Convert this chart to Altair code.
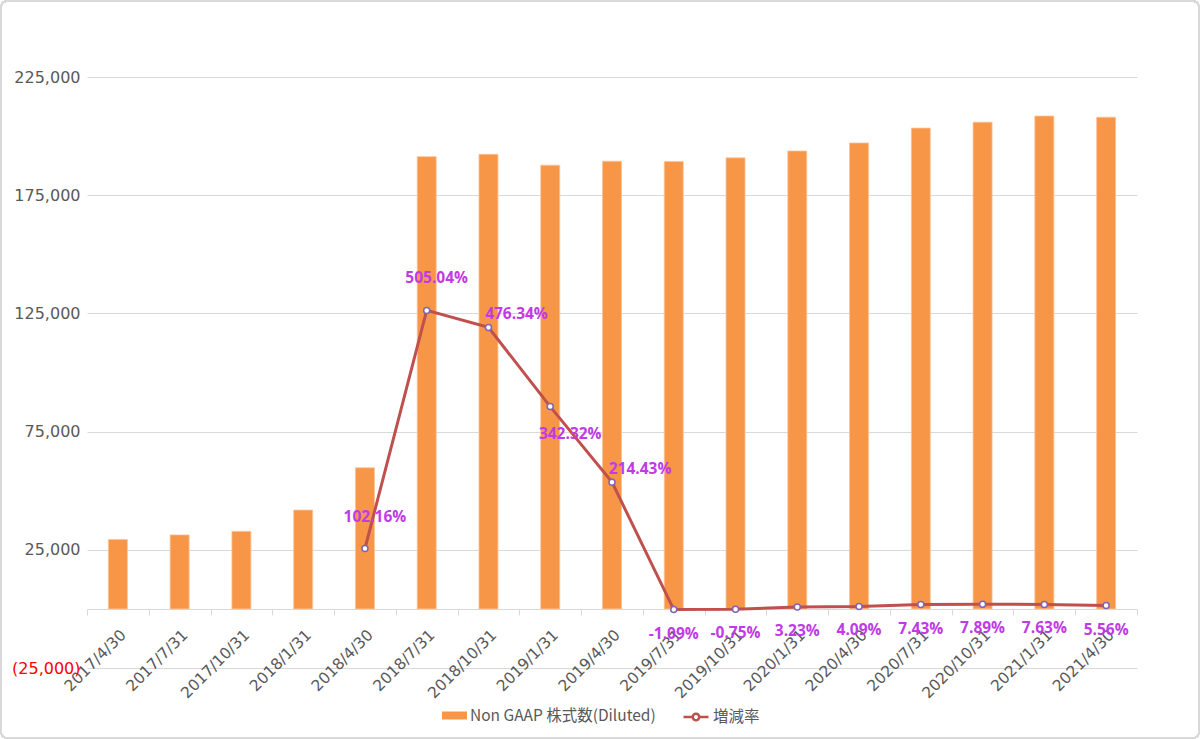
import altair as alt
import pandas as pd

dates = ["2017/4/30", "2017/7/31", "2017/10/31", "2018/1/31", "2018/4/30",
         "2018/7/31", "2018/10/31", "2019/1/31", "2019/4/30", "2019/7/31",
         "2019/10/31", "2020/1/31", "2020/4/30", "2020/7/31", "2020/10/31",
         "2021/1/31", "2021/4/30"]
shares = [29400, 31300, 32800, 41800, 59700,
          191300, 192300, 187700, 189400, 189300,
          190800, 193700, 197100, 203400, 205900,
          208500, 208000]
rates = [None, None, None, None, 102.16,
         505.04, 476.34, 342.32, 214.43, -1.09,
         -0.75, 3.23, 4.09, 7.43, 7.89,
         7.63, 5.56]
rate_labels = ["", "", "", "", "102.16%", "505.04%", "476.34%", "342.32%", "214.43%",
               "-1.09%", "-0.75%", "3.23%", "4.09%", "7.43%", "7.89%", "7.63%", "5.56%"]
label_place = ["", "", "", "", "up", "up", "upright", "downright", "upright",
               "down", "down", "down", "down", "down", "down", "down", "down"]

bar_name = "Non GAAP 株式数(Diluted)"
line_name = "増減率"

df = pd.DataFrame({"date": dates, "shares": shares, "rate": rates,
                   "label": rate_labels, "place": label_place})

FONT = "Noto Sans CJK JP"
AXFONT = "DejaVu Sans"
NUMFONT = "Open Sans"
GRAY = "#595959"
LABEL_COLOR = "#C03BE6"

base = alt.Chart(df)
x = alt.X("date:N", sort=dates,
          scale=alt.Scale(paddingInner=0, paddingOuter=0),
          axis=alt.Axis(title=None, labelAngle=-45, offset=-59, tickBand="extent",
                        domainColor="#D9D9D9", tickColor="#D9D9D9", tickSize=6,
                        labelFontSize=15.5, labelColor=GRAY, labelPadding=12,
                        grid=False, labelFont=AXFONT, labelLimit=0))

bars = base.transform_calculate(series=f"'{bar_name}'").mark_bar(
    size=19, stroke="#FBC49A", strokeWidth=0.8
).encode(
    x=x,
    y=alt.Y("shares:Q",
            scale=alt.Scale(domain=[-25000, 225000], nice=False, zero=False),
            axis=alt.Axis(title=None, values=[-25000, 25000, 75000, 125000, 175000, 225000],
                          labelExpr="datum.value < 0 ? '(' + format(-datum.value, ',') + ')' : format(datum.value, ',')",
                          labelColor={"condition": {"test": "datum.value < 0", "value": "#FF0000"}, "value": GRAY},
                          grid=True, gridColor="#D9D9D9", domain=False, ticks=False,
                          labelFontSize=16, labelPadding=7, labelFont=AXFONT)),
    color=alt.Color("series:N",
                    scale=alt.Scale(domain=[bar_name], range=["#F79646"]),
                    legend=alt.Legend(orient="none", legendX=355, legendY=626, title=None,
                                      symbolType="M-1,-0.32L1,-0.32L1,0.32L-1,0.32Z",
                                      symbolSize=625, symbolStrokeWidth=0,
                                      labelFontSize=15.5, labelColor=GRAY, labelFont=FONT,
                                      labelOffset=3, labelLimit=0)),
)

yr = alt.Y("rate:Q", scale=alt.Scale(domain=[-100, 900], nice=False, zero=False),
           axis=alt.Axis(title=None, orient="right",
                         values=[-100, 100, 300, 500, 700, 900],
                         labelExpr="format(datum.value, '.2f') + '%'",
                         grid=False, domain=False, ticks=False,
                         labelFontSize=10.5, labelColor=GRAY, labelPadding=8, labelFont=AXFONT))
yr_noaxis = alt.Y("rate:Q", axis=None)

valid = base.transform_filter("isValid(datum.rate)")

line = valid.transform_calculate(series2=f"'{line_name}'").mark_line(strokeWidth=3).encode(
    x=x, y=yr,
    color=alt.Color("series2:N",
                    scale=alt.Scale(domain=[line_name], range=["#C0504D"]),
                    legend=alt.Legend(orient="none", legendX=595, legendY=626, title=None,
                                      symbolType="M-1,0L-0.26,0M0.26,0L1,0M-0.26,0A0.26,0.26 0 1,0 0.26,0A0.26,0.26 0 1,0 -0.26,0",
                                      symbolSize=625, symbolStrokeWidth=2.5,
                                      symbolFillColor="#FFFFFF",
                                      labelFontSize=15.5, labelColor=GRAY, labelFont=FONT,
                                      labelOffset=3, labelLimit=0)),
)

points = valid.mark_point(shape="circle", size=36, filled=True, fill="#FFFFFF",
                          stroke="#7F63B8", strokeWidth=1.5, opacity=1).encode(x=x, y=yr_noaxis)

offsets = {"up": (10, -32), "upright": (28, -13), "downright": (20, 27), "down": (0, 24)}
texts = []
for place, (dx, dy) in offsets.items():
    texts.append(
        valid.transform_filter(alt.datum.place == place).mark_text(
            dx=dx, dy=dy, fontSize=15.5, fontWeight="bold", color=LABEL_COLOR, font=NUMFONT,
            baseline="middle", align="center"
        ).encode(x=x, y=yr_noaxis, text="label:N")
    )

right_layer = alt.layer(line, points, *texts)

frame = alt.Chart(df).mark_rect(fill=None, stroke="#D9D9D9", strokeWidth=1.5,
                                cornerRadius=6, clip=False).encode(
    x=alt.value(-86), x2=alt.value(1112), y=alt.value(-76), y2=alt.value(661)
)

chart = alt.layer(frame, bars, right_layer).resolve_scale(
    y="independent", color="independent"
).properties(
    width=1050, height=591,
    autosize=alt.AutoSizeParams(type="none"),
    padding={"left": 87, "top": 77, "right": 63, "bottom": 71},
).configure(font=FONT, background="white").configure_view(stroke=None)

chart.save("out.html", embed_options={"renderer": "svg", "actions": False})
